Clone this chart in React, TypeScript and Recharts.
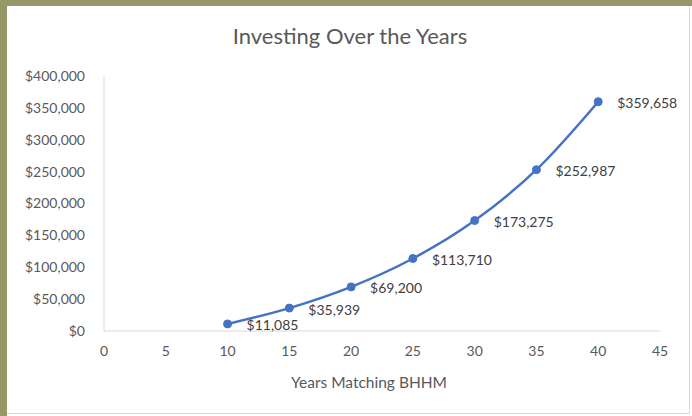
import React from 'react';
import { LineChart, Line, XAxis, YAxis, LabelList } from 'recharts';

const years = [10, 15, 20, 25, 30, 35, 40];
const balances = [11085, 35939, 69200, 113710, 173275, 252987, 359658];
const xTicks = [0, 5, 10, 15, 20, 25, 30, 35, 40, 45];
const yTicks = [0, 50000, 100000, 150000, 200000, 250000, 300000, 350000, 400000];

const chartData = years.map((year, i) => ({ year, balance: balances[i] }));

const FONT = 'Lato, "Liberation Sans", sans-serif';
const money = (v: number) => `$${v.toLocaleString('en-US')}`;

const PointLabel = (props: any) => {
  const { x, y, value } = props;
  return (
    <text x={x + 19} y={y + 3} fill="#404040" fontSize={14} fontFamily={FONT} dominantBaseline="middle">
      {money(Number(value))}
    </text>
  );
};

const App: React.FC = () => {
  return (
    <div
      style={{
        position: 'fixed',
        top: 0,
        left: 0,
        width: 692,
        height: 416,
        background: '#ffffff',
        fontFamily: FONT,
      }}
    >
      {/* frame around the chart */}
      <div style={{ position: 'absolute', left: 0, top: 0, width: 692, height: 6, background: '#969868' }} />
      <div style={{ position: 'absolute', left: 0, top: 0, width: 7, height: 416, background: '#969868' }} />
      <div style={{ position: 'absolute', left: 7, top: 6, width: 682, height: 407, border: '1px solid #d9d9d9', borderLeft: 'none', borderTop: 'none' }} />

      <div
        style={{
          position: 'absolute',
          top: 22,
          left: 7,
          width: 686,
          textAlign: 'center',
          fontSize: 22,
          color: '#595959',
        }}
      >
        Investing Over the Years
      </div>

      <div style={{ position: 'absolute', left: 0, top: 0 }}>
        <LineChart width={692} height={416} data={chartData} margin={{ top: 76, right: 32, left: 14, bottom: 25 }}>
          <XAxis
            dataKey="year"
            type="number"
            domain={[0, 45]}
            ticks={xTicks}
            tickLine={false}
            tickMargin={9}
            height={60}
            stroke="#d9d9d9"
            tick={{ fill: '#595959', fontSize: 14, fontFamily: FONT }}
            label={{
              value: 'Years Matching BHHM',
              position: 'insideBottom',
              offset: 3,
              dx: -13,
              fill: '#595959',
              fontSize: 15.5,
              fontFamily: FONT,
            }}
          />
          <YAxis
            type="number"
            domain={[0, 400000]}
            ticks={yTicks}
            width={90}
            tickLine={false}
            tickMargin={13}
            stroke="#d9d9d9"
            tickFormatter={money}
            tick={{ fill: '#595959', fontSize: 14, fontFamily: FONT }}
          />
          <Line
            type="monotone"
            dataKey="balance"
            stroke="#4472C4"
            strokeWidth={2.5}
            dot={{ r: 4, fill: '#4472C4', stroke: '#4472C4', strokeWidth: 1 }}
            isAnimationActive={false}
          >
            <LabelList dataKey="balance" content={PointLabel} />
          </Line>
        </LineChart>
      </div>
    </div>
  );
};

export default App;
